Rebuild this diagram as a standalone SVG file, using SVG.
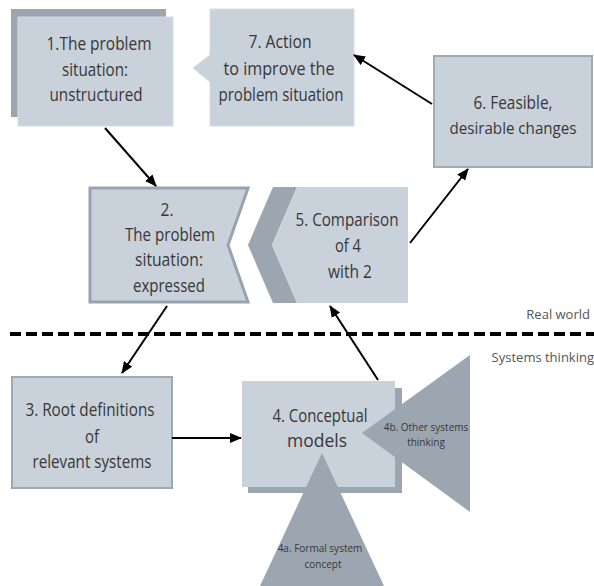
<svg xmlns="http://www.w3.org/2000/svg" width="594" height="586" viewBox="0 0 594 586">
<defs>
<style>
.t{font-family:"Open Sans","Noto Sans",sans-serif;font-size:18px;fill:#383838;text-anchor:middle}
.s{font-family:"Open Sans","Noto Sans",sans-serif;font-size:10px;fill:#383838;text-anchor:middle}
.l{font-family:"Open Sans","Noto Sans",sans-serif;font-size:13px;fill:#555;text-anchor:end}
.lt{fill:#c9d1db}
.dk{fill:#9ba6b1}
.c{stroke:#000;stroke-width:2;fill:none;marker-end:url(#ah)}
</style>
<marker id="ah" markerUnits="userSpaceOnUse" markerWidth="12" markerHeight="10" refX="11" refY="5" orient="auto">
<path d="M0,0 L12,5 L0,10 z" fill="#000"/>
</marker>
</defs>
<rect width="594" height="586" fill="#fff"/>

<g id="node1">
<rect class="dk" x="11" y="9" width="155" height="108"/>
<rect class="lt" x="18" y="17" width="155" height="109" stroke="#d6dce3" stroke-width="1"/>
<text class="t" x="99" y="50" textLength="105" lengthAdjust="spacingAndGlyphs">1.The problem</text>
<text class="t" x="95" y="76" textLength="66" lengthAdjust="spacingAndGlyphs">situation:</text>
<text class="t" x="96" y="101" textLength="93" lengthAdjust="spacingAndGlyphs">unstructured</text>
</g>

<g id="node7">
<polygon class="lt" points="210,9 354,9 354,126 210,126 210,82 193,68 210,55" stroke="#d6dce3" stroke-width="1"/>
<text class="t" x="280" y="48" textLength="63" lengthAdjust="spacingAndGlyphs">7. Action</text>
<text class="t" x="279" y="75" textLength="111" lengthAdjust="spacingAndGlyphs">to improve the</text>
<text class="t" x="281" y="101" textLength="125" lengthAdjust="spacingAndGlyphs">problem situation</text>
</g>

<g id="node6">
<rect class="lt" x="434" y="56" width="158" height="111" stroke="#a0aab5" stroke-width="2"/>
<text class="t" x="513" y="109" textLength="79" lengthAdjust="spacingAndGlyphs">6. Feasible,</text>
<text class="t" x="513" y="134" style="font-size:16px" textLength="127" lengthAdjust="spacingAndGlyphs">desirable changes</text>
</g>

<g id="node2">
<polygon class="lt" points="90,188 248,188 228,245 248,302 90,302" stroke="#98a3ae" stroke-width="3"/>
<text class="t" x="167" y="216" textLength="13" lengthAdjust="spacingAndGlyphs">2.</text>
<text class="t" x="170" y="241" textLength="90" lengthAdjust="spacingAndGlyphs">The problem</text>
<text class="t" x="169" y="266" textLength="68" lengthAdjust="spacingAndGlyphs">situation:</text>
<text class="t" x="169" y="292" textLength="72" lengthAdjust="spacingAndGlyphs">expressed</text>
</g>

<g id="node5">
<polygon class="dk" points="273,187 297,187 272,245 297,303 273,303 248,245"/>
<polygon class="lt" points="297,187 408,187 408,303 297,303 272,245"/>
<text class="t" x="347" y="226" textLength="103" lengthAdjust="spacingAndGlyphs">5. Comparison</text>
<text class="t" x="348" y="252" textLength="26" lengthAdjust="spacingAndGlyphs">of 4</text>
<text class="t" x="350" y="278" textLength="44" lengthAdjust="spacingAndGlyphs">with 2</text>
</g>

<g id="divider">
<line x1="10" y1="334" x2="594" y2="334" stroke="#000" stroke-width="4" stroke-dasharray="11,5"/>
<text class="l" x="590" y="319">Real world</text>
<text class="l" x="594" y="362">Systems thinking</text>
</g>

<g id="node3">
<rect class="lt" x="12" y="377" width="160" height="111" stroke="#a0aab5" stroke-width="2"/>
<text class="t" x="90" y="416" textLength="129" lengthAdjust="spacingAndGlyphs">3. Root definitions</text>
<text class="t" x="92" y="443" textLength="14" lengthAdjust="spacingAndGlyphs">of</text>
<text class="t" x="92" y="468" textLength="119" lengthAdjust="spacingAndGlyphs">relevant systems</text>
</g>

<g id="node4">
<rect class="dk" x="248" y="388" width="154" height="105"/>
<rect class="lt" x="242" y="381" width="153" height="106"/>
<text class="t" x="320" y="422" textLength="95" lengthAdjust="spacingAndGlyphs">4. Conceptual</text>
<text class="t" x="317" y="447" textLength="60" lengthAdjust="spacingAndGlyphs">models</text>
</g>

<g id="node4b">
<polygon class="dk" points="470,355 470,512 362,433"/>
<text class="s" x="426" y="431">4b. Other systems</text>
<text class="s" x="426" y="446">thinking</text>
</g>

<g id="node4a">
<polygon class="dk" points="322,453 384,586 260,586"/>
<text class="s" x="320" y="552">4a. Formal system</text>
<text class="s" x="323" y="568">concept</text>
</g>

<g id="connectors">
<line class="c" x1="105" y1="128" x2="156" y2="186"/>
<line class="c" x1="167" y1="306" x2="122" y2="373"/>
<line class="c" x1="172" y1="438" x2="241" y2="438"/>
<line class="c" x1="378" y1="380" x2="330" y2="306"/>
<line class="c" x1="410" y1="243" x2="468" y2="169"/>
<line class="c" x1="432" y1="104" x2="354" y2="55"/>
</g>
</svg>
